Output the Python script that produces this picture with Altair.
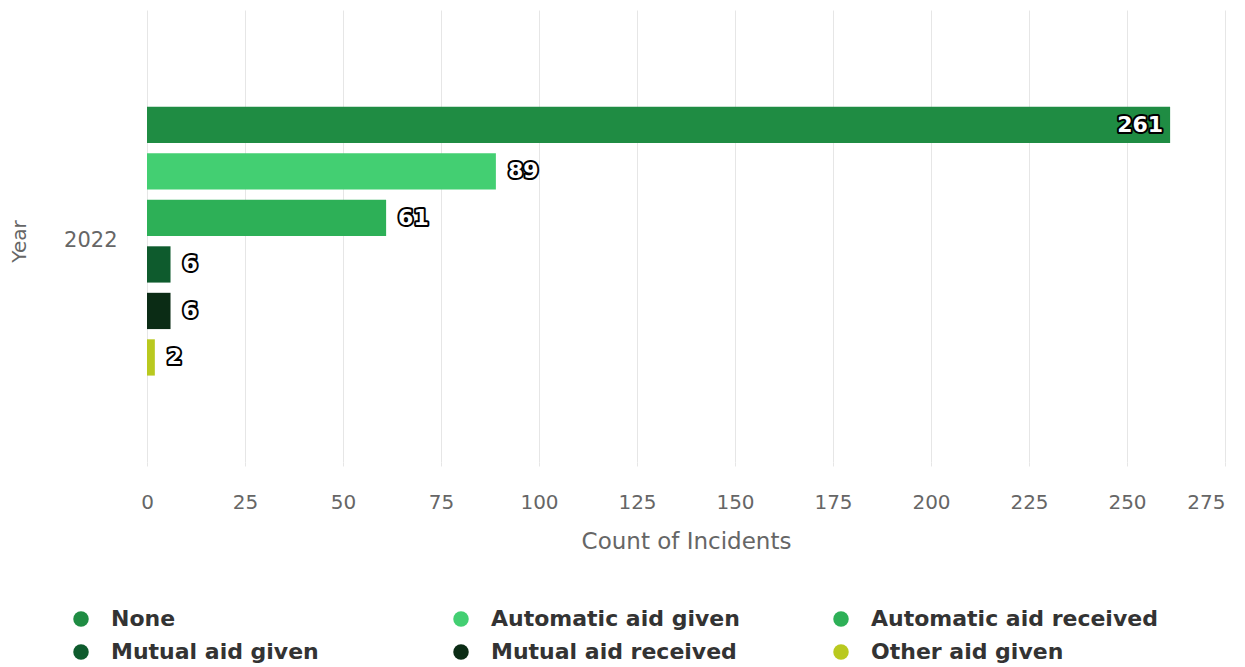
import altair as alt
import pandas as pd

years = ["2022"] * 6
aid_types = ["None", "Automatic aid given", "Automatic aid received",
             "Mutual aid given", "Mutual aid received", "Other aid given"]
counts = [261, 89, 61, 6, 6, 2]
colors = ["#1f8c43", "#43cf72", "#2db057", "#0e5b2d", "#0b2c15", "#b9c91f"]
x_ticks = [0, 25, 50, 75, 100, 125, 150, 175, 200, 225, 250, 275]

df = pd.DataFrame({"Year": years, "Aid": aid_types, "Count": counts})

W, H = 1078, 452

base = alt.Chart(df).encode(
    y=alt.Y("Year:N", title="Year",
            scale=alt.Scale(paddingInner=0, paddingOuter=0.31, align=0.53),
            axis=alt.Axis(ticks=False, domain=False, grid=False, labelPadding=30,
                          labelFontSize=21, labelColor="#666666", labelFont="DejaVu Sans",
                          titleFontSize=20, titleColor="#666666", titleFont="DejaVu Sans",
                          titleFontWeight="normal", titleX=-118, titleY=H / 2 + 5)),
    yOffset=alt.YOffset("Aid:N", sort=aid_types,
                        scale=alt.Scale(paddingInner=0.22, paddingOuter=0.11)),
    x=alt.X("Count:Q", title="Count of Incidents",
            scale=alt.Scale(domain=[0, 275], nice=False),
            axis=alt.Axis(values=x_ticks, grid=True, gridColor="#e6e6e6", domain=False,
                          tickColor="#e6e6e6", tickSize=4, labelPadding=26, labelFlush=False,
                          labelAlign=alt.condition("datum.value == 275", alt.value("right"), alt.value("center")),
                          labelFontSize=20, labelColor="#666666", labelFont="DejaVu Sans",
                          titleFontSize=23, titleColor="#666666", titleFont="DejaVu Sans",
                          titleFontWeight="normal", titlePadding=18)),
)

bars = base.mark_bar().encode(
    color=alt.Color("Aid:N", sort=aid_types,
                    scale=alt.Scale(domain=aid_types, range=colors),
                    legend=alt.Legend(title=None, orient="none", legendX=-77, legendY=598,
                                      columns=3, direction="horizontal", gridAlign="all",
                                      columnPadding=52, rowPadding=11,
                                      symbolType="circle", symbolSize=240, symbolStrokeWidth=0,
                                      labelFontSize=22, labelFontWeight="bold",
                                      labelFont="DejaVu Sans", labelColor="#333333",
                                      labelOffset=19, labelLimit=400))
)

outside = alt.datum.Count < 200
inside = alt.datum.Count >= 200

text_kw = dict(fontSize=22, fontWeight="bold", font="DejaVu Sans", baseline="middle")

out_stroke = base.mark_text(align="left", dx=12, stroke="#000000", strokeWidth=4,
                            color="#000000", strokeJoin="round", **text_kw).encode(
    text="Count:Q").transform_filter(outside)
out_fill = base.mark_text(align="left", dx=12, color="#ffffff", **text_kw).encode(
    text="Count:Q").transform_filter(outside)
in_stroke = base.mark_text(align="right", dx=-7, stroke="#000000", strokeWidth=4,
                           color="#000000", strokeJoin="round", **text_kw).encode(
    text="Count:Q").transform_filter(inside)
in_fill = base.mark_text(align="right", dx=-7, color="#ffffff", **text_kw).encode(
    text="Count:Q").transform_filter(inside)

chart = alt.layer(bars, out_stroke, out_fill, in_stroke, in_fill).properties(
    width=W, height=H,
    autosize=alt.AutoSizeParams(type="none"),
    padding={"left": 147, "top": 10, "right": 20, "bottom": 205},
).configure(background="#ffffff").configure_view(stroke=None)

chart.save("out.html", embed_options={"renderer": "svg", "actions": False})
